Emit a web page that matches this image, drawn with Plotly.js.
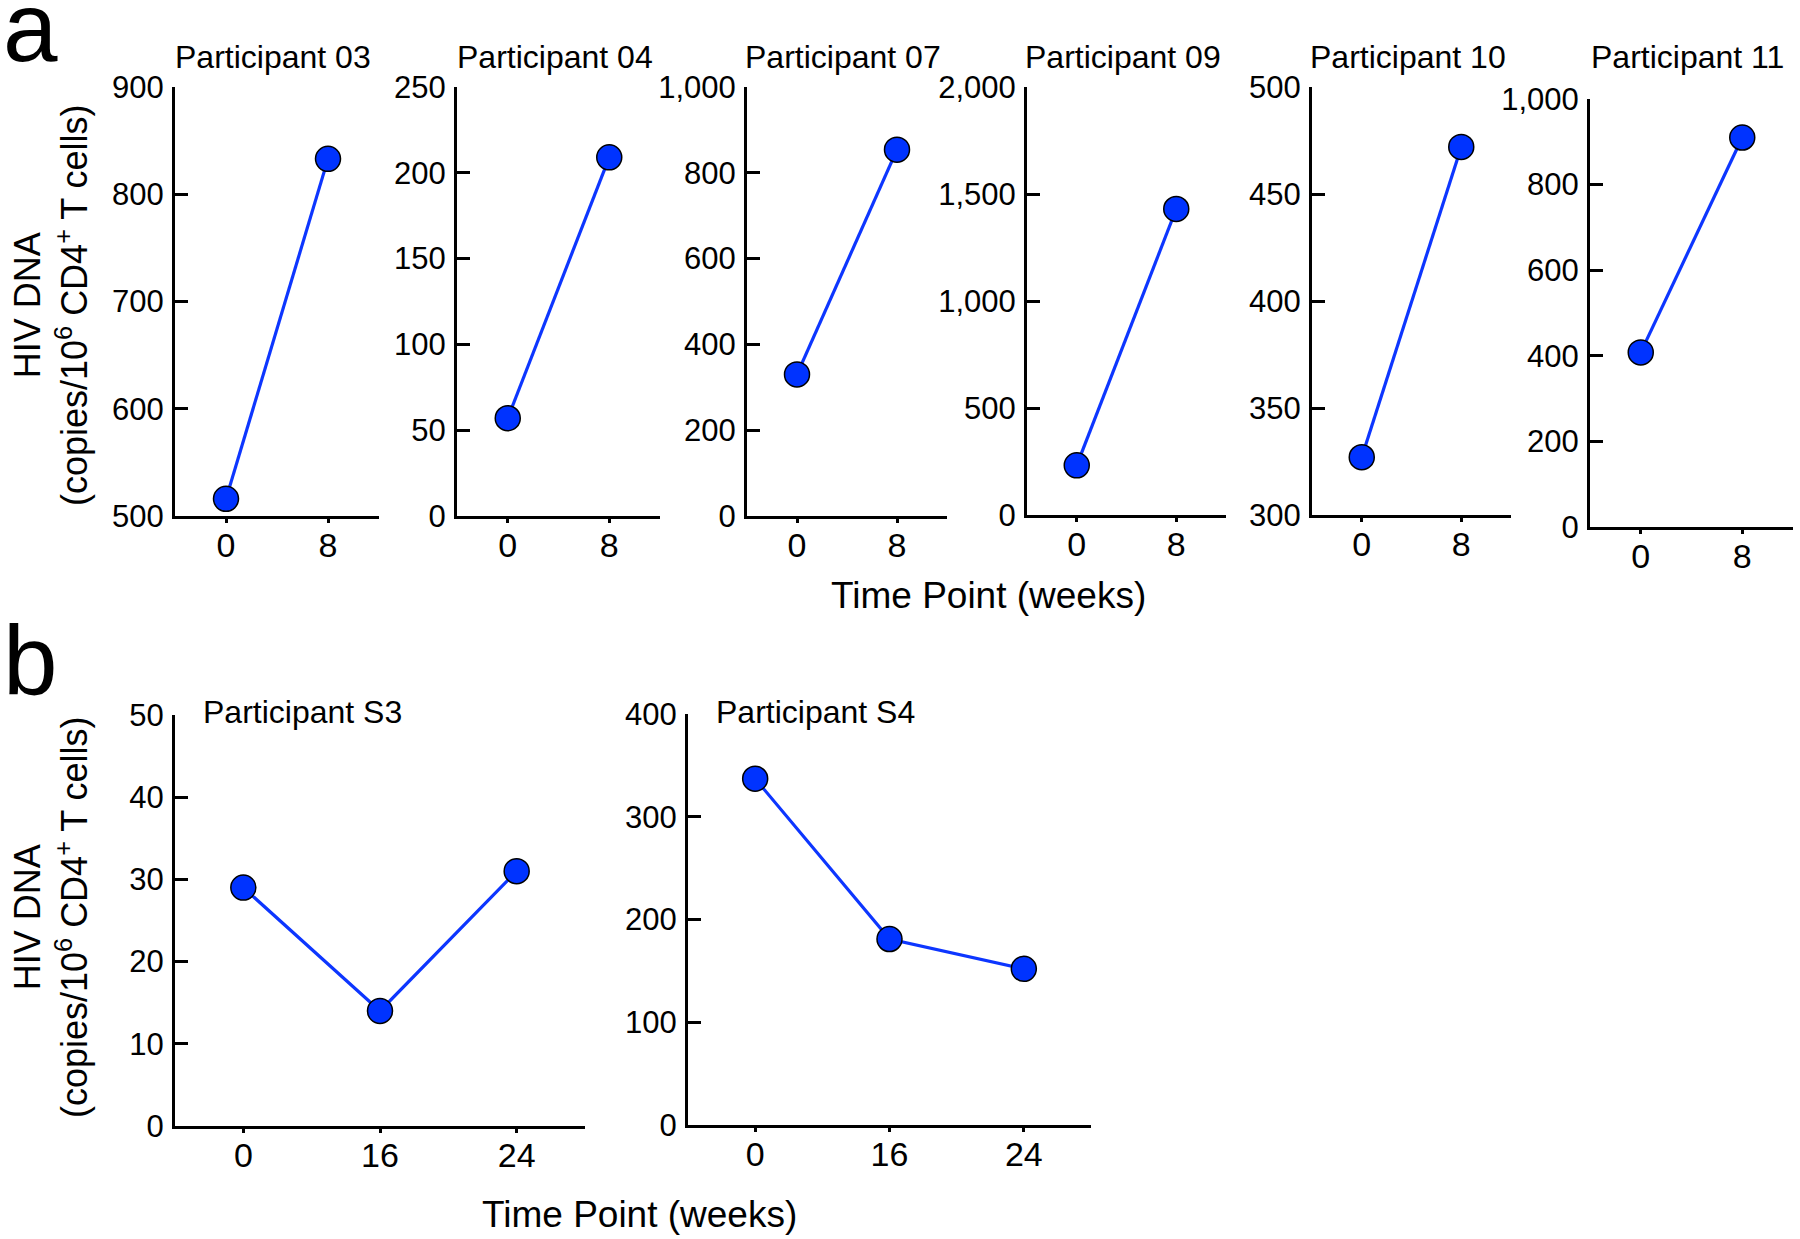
<!DOCTYPE html>
<html>
<head>
<meta charset="utf-8">
<script src="https://cdn.plot.ly/plotly-3.0.1.min.js"></script>
<style>
  html, body { margin: 0; padding: 0; background: #ffffff; }
  #chart { width: 1800px; height: 1239px; }
</style>
</head>
<body>
<div id="chart"></div>
<script>
// ---------------- DATA ----------------
const weeksA = ["0", "8"];
const weeksB = ["0", "16", "24"];

const titlesA = ["Participant 03", "Participant 04", "Participant 07", "Participant 09", "Participant 10", "Participant 11"];
const p03 = [516, 833];
const p04 = [57, 209];
const p07 = [330, 854];
const p09 = [232, 1430];
const p10 = [327, 472];
const p11 = [408, 910];

const titlesB = ["Participant S3", "Participant S4"];
const s3 = [29, 14, 31];
const s4 = [337, 181, 152];

const yRangesA = [[500, 900], [0, 250], [0, 1000], [0, 2000], [300, 500], [0, 1000]];
const yDticksA = [100, 50, 200, 500, 50, 200];
const yRangesB = [[0, 50], [0, 400]];
const yDticksB = [10, 100];

const yTitleText = "HIV DNA<br>(copies/10<sup>6</sup> CD4<sup>+</sup> T cells)";
const xTitleText = "Time Point (weeks)";

// ---------------- LAYOUT (pixel boxes of each plot area) ----------------
const W = 1800, H = 1239;
const boxesA = [
  {x0: 175, x1: 379, y0: 87, y1: 516},
  {x0: 457, x1: 660, y0: 87, y1: 516},
  {x0: 747, x1: 947, y0: 87, y1: 516},
  {x0: 1027, x1: 1226, y0: 87, y1: 515},
  {x0: 1312, x1: 1511, y0: 87, y1: 515},
  {x0: 1590, x1: 1793, y0: 99, y1: 527}
];
const boxesB = [
  {x0: 175, x1: 585, y0: 715, y1: 1126},
  {x0: 688, x1: 1091, y0: 714, y1: 1125}
];

const FONT = "Liberation Sans, Arial, Helvetica, sans-serif";
const BLUE_MARK = "#0033ff";
const BLUE_LINE = "#0d36ff";

const seriesA = [p03, p04, p07, p09, p10, p11];
const seriesB = [s3, s4];

const traces = [];
const layout = {
  width: W, height: H,
  margin: {l: 0, r: 0, t: 0, b: 0},
  paper_bgcolor: "#ffffff",
  plot_bgcolor: "rgba(0,0,0,0)",
  showlegend: false,
  font: {family: FONT, color: "#000000", size: 31},
  annotations: []
};

function addPanel(idx, xs, ys, box, yr, dt) {
  const n = idx === 1 ? "" : String(idx);
  traces.push({
    type: "scatter", mode: "lines+markers",
    x: xs, y: ys,
    xaxis: "x" + n, yaxis: "y" + n,
    cliponaxis: false,
    line: {color: BLUE_LINE, width: 3.2},
    marker: {color: BLUE_MARK, size: 25, line: {color: "#000000", width: 1.5}}
  });
  layout["xaxis" + n] = {
    domain: [box.x0 / W, box.x1 / W],
    anchor: "y" + n,
    type: "category",
    categoryorder: "array", categoryarray: xs,
    range: [-0.5, xs.length - 0.5],
    showline: true, linecolor: "#000000", linewidth: 3,
    showgrid: false, zeroline: false,
    ticks: "outside", ticklen: 4, tickwidth: 3, tickcolor: "#000000",
    tickfont: {family: FONT, size: 34, color: "#000000"},
    ticklabelstandoff: -7,
    fixedrange: true
  };
  layout["yaxis" + n] = {
    domain: [1 - box.y1 / H, 1 - box.y0 / H],
    anchor: "x" + n,
    range: yr,
    tick0: yr[0], dtick: dt, tickmode: "linear",
    tickformat: ",d",
    showline: true, linecolor: "#000000", linewidth: 3,
    showgrid: false, zeroline: false,
    ticks: "inside", ticklen: 13, tickwidth: 3, tickcolor: "#000000",
    tickfont: {family: FONT, size: 31, color: "#000000"},
    ticklabelstandoff: 2,
    fixedrange: true
  };
}

let k = 1;
for (let i = 0; i < seriesA.length; i++) {
  addPanel(k, weeksA, seriesA[i], boxesA[i], yRangesA[i], yDticksA[i]);
  const b = boxesA[i];
  layout.annotations.push({
    text: titlesA[i], xref: "paper", yref: "paper",
    x: ((b.x0 + b.x1) / 2 - 4) / W, y: 1 - 57 / H,
    xanchor: "center", yanchor: "middle", showarrow: false,
    font: {family: FONT, size: 32, color: "#000000"}
  });
  k++;
}
for (let i = 0; i < seriesB.length; i++) {
  addPanel(k, weeksB, seriesB[i], boxesB[i], yRangesB[i], yDticksB[i]);
  const b = boxesB[i];
  layout.annotations.push({
    text: titlesB[i], xref: "paper", yref: "paper",
    x: (b.x0 + 26) / W, y: 1 - 712 / H,
    xanchor: "left", yanchor: "middle", showarrow: false,
    font: {family: FONT, size: 32, color: "#000000"}
  });
  k++;
}

// panel letters
layout.annotations.push({
  text: "a", xref: "paper", yref: "paper", x: 1 / W, y: 1 - 27 / H,
  xanchor: "left", yanchor: "middle", showarrow: false,
  font: {family: FONT, size: 98, color: "#000000"}
});
layout.annotations.push({
  text: "b", xref: "paper", yref: "paper", x: 1 / W, y: 1 - 660 / H,
  xanchor: "left", yanchor: "middle", showarrow: false,
  font: {family: FONT, size: 98, color: "#000000"}
});

// y axis titles
[305, 917].forEach(function (cy) {
  layout.annotations.push({
    text: yTitleText, xref: "paper", yref: "paper",
    x: 51 / W, y: 1 - cy / H, textangle: -90,
    xanchor: "center", yanchor: "middle", showarrow: false, align: "center",
    font: {family: FONT, size: 36, color: "#000000"}
  });
});

// x axis titles
layout.annotations.push({
  text: xTitleText, xref: "paper", yref: "paper",
  x: 988 / W, y: 1 - 595 / H, xanchor: "center", yanchor: "middle", showarrow: false,
  font: {family: FONT, size: 37, color: "#000000"}
});
layout.annotations.push({
  text: xTitleText, xref: "paper", yref: "paper",
  x: 639 / W, y: 1 - 1214 / H, xanchor: "center", yanchor: "middle", showarrow: false,
  font: {family: FONT, size: 37, color: "#000000"}
});

Plotly.newPlot("chart", traces, layout, {displayModeBar: false, staticPlot: true});
</script>
</body>
</html>
